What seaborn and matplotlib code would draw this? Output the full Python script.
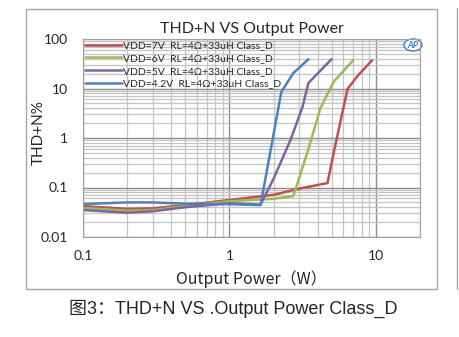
import matplotlib
matplotlib.use("Agg")
import matplotlib.pyplot as plt
import seaborn as sns
import pandas as pd
from matplotlib.patches import Rectangle, Ellipse
from matplotlib.lines import Line2D

# ---- data ----
p_7v = [0.1, 0.2, 0.3, 0.5, 1.0, 2.0, 3.0, 4.67, 5.2, 6.4, 7.5, 9.4]
thd_7v = [0.042, 0.037, 0.038, 0.044, 0.056, 0.071, 0.095, 0.123, 0.58, 9.8, 18.0, 37.0]
p_6v = [0.1, 0.2, 0.3, 0.5, 1.0, 2.0, 2.73, 3.46, 4.18, 5.13, 7.0]
thd_6v = [0.0385, 0.034, 0.035, 0.042, 0.053, 0.059, 0.067, 0.6, 4.0, 13.5, 37.5]
p_5v = [0.1, 0.2, 0.3, 0.5, 1.0, 1.63, 2.0, 2.61, 3.15, 3.46, 4.97]
thd_5v = [0.035, 0.031, 0.033, 0.040, 0.048, 0.045, 0.15, 0.91, 4.2, 12.9, 39.0]
p_42v = [0.1, 0.2, 0.3, 0.5, 1.0, 1.63, 2.26, 2.73, 3.46]
thd_42v = [0.046, 0.050, 0.050, 0.047, 0.046, 0.044, 8.5, 20.5, 39.0]

labels = ["VDD=7V  RL=4Ω+33uH Class_D",
          "VDD=6V  RL=4Ω+33uH Class_D",
          "VDD=5V  RL=4Ω+33uH Class_D",
          "VDD=4.2V  RL=4Ω+33uH Class_D"]
colors = ["#C0504D", "#9BBB59", "#8064A2", "#4F81BD"]

x_ticks = [0.1, 1, 10]
x_ticklabels = ["0.1", "1", "10"]
y_ticks = [0.01, 0.1, 1, 10, 100]
y_ticklabels = ["0.01", "0.1", "1", "10", "100"]

title = "THD+N VS Output Power"
xlabel = "Output Power（W）"
ylabel = "THD+N%"
caption = "图3：THD+N VS .Output Power Class_D"

rows = []
for lab, ps, ts in zip(labels, [p_7v, p_6v, p_5v, p_42v], [thd_7v, thd_6v, thd_5v, thd_42v]):
    for p, t in zip(ps, ts):
        rows.append({"P": p, "THD": t, "series": lab})
df = pd.DataFrame(rows)

sns.set_style("white")
plt.rcParams['font.family'] = ['Lato', 'Noto Sans CJK SC', 'DejaVu Sans']

fig = plt.figure(figsize=(4.59, 3.37), dpi=100)
ax = fig.add_axes([83/459, 1-237/337, (420-83)/459, (237-39)/337])

sns.lineplot(data=df, x="P", y="THD", hue="series", hue_order=labels,
             palette=colors, ax=ax, linewidth=1.8, sort=True, estimator=None)

ax.set_xscale("log")
ax.set_yscale("log")
ax.set_xlim(0.1, 20)
ax.set_ylim(0.01, 100)
ax.set_xticks(x_ticks)
ax.set_xticklabels(x_ticklabels)
ax.set_yticks(y_ticks)
ax.set_yticklabels(y_ticklabels)
ax.grid(True, which="major", color="#8c8c8c", linewidth=1.0)
ax.grid(True, which="minor", color="#c4c4c4", linewidth=0.9)
ax.set_axisbelow(True)
ax.tick_params(which="both", length=0)
ax.tick_params(axis="x", pad=9, labelsize=10)
ax.tick_params(axis="y", pad=11, labelsize=10)
for s in ax.spines.values():
    s.set_color("#a0a0a0")
    s.set_linewidth(0.8)

ax.set_xlabel(xlabel, fontsize=11.5, labelpad=6, family=['Noto Sans CJK SC', 'DejaVu Sans'])
ax.set_ylabel(ylabel, fontsize=11)
ax.yaxis.set_label_coords((46 - 83) / 337, (237 - 133) / 198)
ax.set_title(title, fontsize=11.5, pad=4)

leg = ax.legend(loc="upper left", bbox_to_anchor=(0, 1.0), borderaxespad=0.0,
                frameon=False, fontsize=7.5, handlelength=3.5, handletextpad=0.1,
                labelspacing=0.33, borderpad=0.2)
for t in leg.get_texts():
    t.set_family(['Lato', 'DejaVu Sans'])

# AP logo
ax.add_patch(Ellipse((413/459, 1-45/337), 18/459, 12/337, transform=fig.transFigure,
                     facecolor="white", edgecolor="#3a7bd5", linewidth=1.0, clip_on=False))
fig.text(413/459, 1-45/337, "AP", color="#3a7bd5", fontsize=6.5, fontweight="bold",
         style="italic", ha="center", va="center")

# outer frame
fig.patches.append(Rectangle((26/459, 1-289/337), (437-26)/459, (289-9)/337,
                             transform=fig.transFigure, fill=False,
                             edgecolor="#a6a6a6", linewidth=1.0))
fig.lines.append(Line2D([457/459, 457/459], [1-289/337, 1-8/337],
                        transform=fig.transFigure, color="#a6a6a6", linewidth=1.0))

fig.text(233/459, 1-309/337, caption, ha="center", va="center", fontsize=13,
         family=['Liberation Sans', 'Noto Sans CJK SC', 'DejaVu Sans'])

fig.savefig("out.png", dpi=100)
